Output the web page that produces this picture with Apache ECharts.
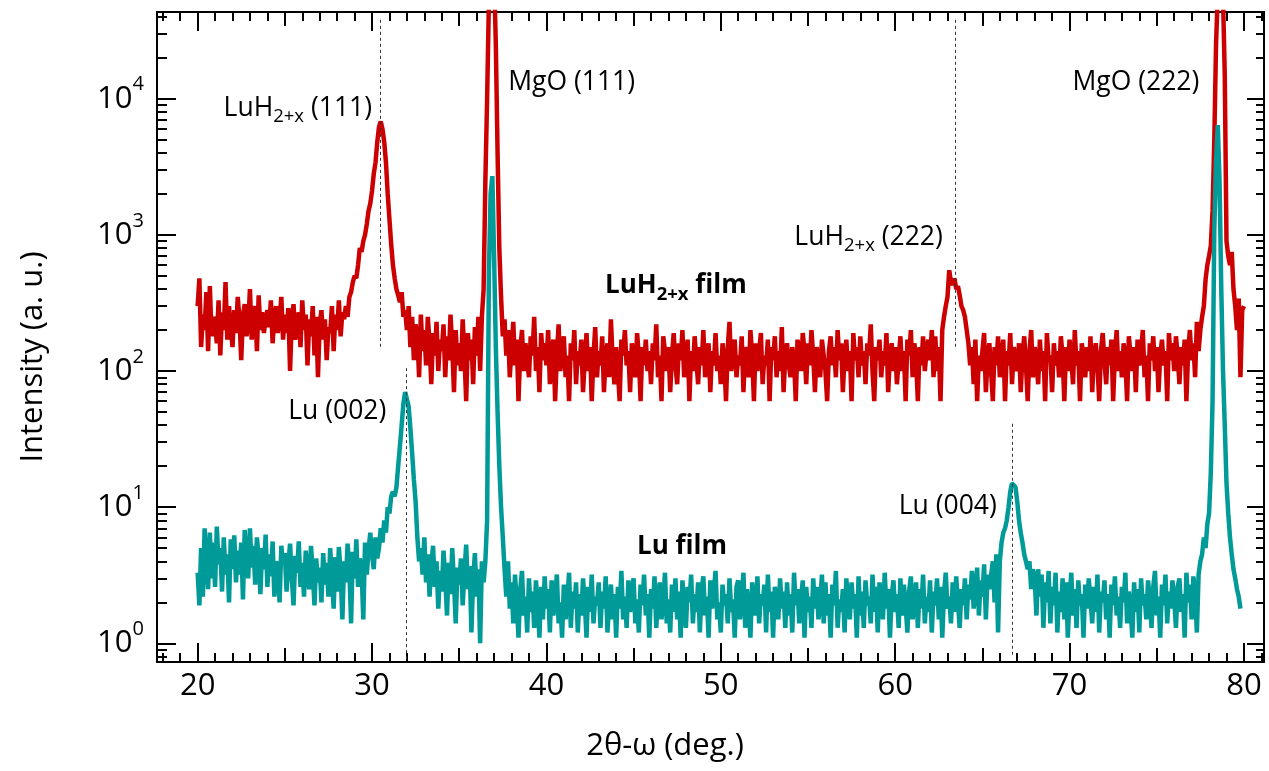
<!DOCTYPE html>
<html><head><meta charset="utf-8">
<script src="https://cdn.jsdelivr.net/npm/echarts@6/dist/echarts.min.js"></script>
<style>html,body{margin:0;padding:0;background:#fff}#c{width:1269px;height:771px}</style>
</head><body><div id="c"></div>
<script>
// 2θ-ω scan, sampled from 20.0 deg every 0.1 deg
const xStart = 20.0;
const xStep = 0.1;

// LuH2+x film intensity (a.u.), 20.0 .. 80.0
const luhFilm = [
 300,480,150,260,200,380,140,420,180,250, // 20
 220,160,330,130,270,200,450,170,300,210, // 21
 150,280,190,350,240,120,260,310,180,220, // 22
 400,170,250,300,140,360,200,270,190,240, // 23
 280,210,330,160,250,300,190,240,350,170, // 24
 260,190,290,100,240,310,170,220,270,150, // 25
 330,200,260,110,240,180,300,130,250,90,  // 26
 220,280,170,240,120,210,190,300,140,260, // 27
 200,330,180,270,240,300,250,350,380,450, // 28
 500,480,600,800,750,900,1000,1200,1500,1700, // 29
 2100,2800,3400,4800,6200,6800,6000,4800,3400,2000, // 30
 1300,850,600,480,400,360,320,380,250,280, // 31
 200,300,150,250,120,220,180,90,260,140,  // 32
 200,110,250,160,80,190,130,230,100,170,  // 33
 140,220,90,180,120,260,150,70,200,110,   // 34
 160,100,240,130,60,190,120,170,80,210,   // 35
 130,250,100,250,400,2500,10000,50000,200000,200000, // 36
 80000,25000,4000,800,350,180,240,130,200,90, // 37
 150,230,110,170,60,140,200,100,160,120,  // 38
 90,180,130,250,100,150,70,190,120,160,   // 39
 110,200,80,140,170,60,130,220,100,150,   // 40
 180,90,130,60,160,120,200,80,140,110,    // 41
 170,70,120,190,100,150,60,130,210,90,    // 42
 140,110,180,70,130,160,90,240,120,80,    // 43
 150,100,60,170,130,200,110,140,70,160,   // 44
 120,90,190,130,60,150,110,170,100,140,   // 45
 80,160,120,220,90,130,60,180,140,100,    // 46
 150,70,130,190,110,80,160,120,200,90,    // 47
 130,170,60,140,100,180,120,80,150,110,   // 48
 200,90,130,160,70,140,110,190,100,130,   // 49
 80,160,120,60,150,230,100,140,170,90,    // 50
 130,110,180,70,150,120,90,200,130,60,    // 51
 160,100,140,190,80,130,110,170,60,150,   // 52
 120,180,90,140,100,210,70,130,160,110,   // 53
 90,150,120,60,170,130,100,190,140,80,    // 54
 160,110,200,130,70,150,120,90,170,130,   // 55
 100,60,140,180,110,150,90,200,120,160,   // 56
 70,130,170,100,140,60,190,120,150,90,    // 57
 180,110,140,80,160,130,220,100,60,150,   // 58
 120,170,90,140,110,190,70,130,160,100,   // 59
 150,80,120,180,100,140,60,170,130,200,   // 60
 90,160,120,60,150,110,180,100,140,170,   // 61
 120,200,90,180,100,150,60,200,250,300,   // 62
 350,550,450,430,480,400,420,360,300,280, // 63
 250,200,160,110,150,80,170,60,130,100,   // 64
 140,190,70,120,160,100,60,150,110,180,   // 65
 90,130,170,60,140,110,190,80,150,120,    // 66
 100,160,70,130,180,110,60,140,200,90,    // 67
 150,120,80,170,100,140,60,190,120,130,   // 68
 70,160,110,140,90,180,130,60,150,100,    // 69
 170,120,80,200,110,140,60,160,130,90,    // 70
 150,100,180,70,130,160,110,60,140,190,   // 71
 120,80,150,110,170,60,130,200,100,140,   // 72
 90,160,120,60,180,130,100,150,70,170,    // 73
 110,140,200,90,130,60,160,120,180,100,   // 74
 150,70,130,170,110,140,60,190,120,160,   // 75
 100,180,130,80,150,110,170,60,140,200,   // 76
 120,160,90,230,140,200,250,300,470,600,  // 77
 700,830,1500,5000,25000,60000,150000,150000,55000,15000, // 78
 900,700,600,750,400,300,200,340,90,280,  // 79
 300                                      // 80
];

// Lu film intensity (a.u.), 20.0 .. 79.8
const luFilm = [
 3.3,1.9,5,2.2,7,4,2.5,6.5,3,5.5,        // 20
 2.6,7.2,3.8,5,2.4,6,3.2,4.5,2,5.8,      // 21
 3.5,6.2,2.8,4.8,3.2,5.5,2.1,6.8,4,3,    // 22
 7,3.6,5.2,2.7,6,4.2,2.3,5,3.5,6.3,      // 23
 2.6,4.5,3.1,5.6,2.2,4,3.5,2,5.2,3.8,    // 24
 4.6,2.4,3.8,5.4,3,1.9,4.4,3.3,5.6,2.6,  // 25
 3.9,2.2,4.8,3.1,2.5,5.2,3.4,1.9,4.2,2.8,// 26
 3.6,2,4.6,2.7,3.9,2.2,5,3.1,1.8,4.3,    // 27
 2.4,5.1,3.3,1.5,4,2.8,5.4,3.6,1.4,4.7,  // 28
 3,5.8,2.6,4.2,3.5,1.5,5.5,3.2,4.8,6.5,  // 29
 4.5,3.5,6,4.2,5,7,5.5,8,6.5,10,         // 30
 9,12,13,12,14,20,28,40,58,70,           // 31
 70,55,38,25,16,11,6,4,5,3.2,            // 32
 6,2.8,4.5,2.2,3.8,5.2,2.6,4,1.8,3.4,    // 33
 2.4,4.8,3,1.6,3.9,2.3,5,2.8,1.4,3.6,    // 34
 2.7,4.2,1.9,3.3,5.3,2.5,3.7,1.2,3,4.6,  // 35
 2.2,3.5,1,4,2.8,4,8,500,2000,2700,      // 36
 700,150,50,20,10,6,3.5,2.2,4,1.8,       // 37
 2.8,1.4,3.2,2,1.1,2.5,3.4,1.6,2.2,1.2,  // 38
 3,1.7,2.4,1.3,2.9,1.9,1.1,2.6,1.5,3.1,  // 39
 1.8,2.5,1.2,2.9,1.6,2.2,3.2,1.4,2,1.1,  // 40
 2.7,1.5,2.1,3.3,1.3,2.4,1.8,2.8,1.2,2.3,// 41
 1.6,3,2,1.1,2.6,1.7,3.2,1.4,2.2,1.9,    // 42
 2.8,1.3,2.4,1.8,3.1,1.2,2,2.7,1.5,2.3,  // 43
 1.1,2.6,1.8,3.4,1.5,2.2,1.3,2.9,1.7,2.4,// 44
 3,1.4,2.1,1.2,2.7,1.9,3.2,1.6,2.3,1.1,  // 45
 2.5,1.8,3.1,1.3,2.2,2.8,1.5,2,3.3,1.4,  // 46
 2.1,1.2,2.7,1.7,3,1.5,2.4,1.1,2.9,1.8,  // 47
 1.3,2.6,2,3.2,1.4,2.3,1.7,2.8,1.2,2.5,  // 48
 3.1,1.6,2.2,1.1,2.9,1.8,2.4,3.4,1.5,2,  // 49
 1.2,2.7,1.9,2.3,1.4,3,1.7,2.1,1.1,2.6,  // 50
 2.9,1.5,2.2,3.3,1.3,2.5,1.8,1.1,2.8,2,  // 51
 1.6,3.1,1.4,2.3,1.9,2.7,1.2,3.2,1.7,2.4,// 52
 1.1,2.6,2.1,1.5,3,1.8,2.4,1.3,2.8,1.6,  // 53
 2.3,1.2,3.3,1.9,2.5,1.4,2.1,2.9,1.1,2.6,// 54
 1.7,2.2,1.3,3,1.8,2.6,1.5,2,3.2,1.4,    // 55
 2.8,1.6,2.3,1.1,2.7,1.9,3.4,1.3,2.1,1.7,// 56
 2.5,1.2,3,2,1.5,2.8,1.8,2.3,1.1,3.1,    // 57
 1.6,2.4,1.3,2.9,1.9,2.2,1.4,3.2,1.7,2.6,// 58
 1.2,2.8,2,1.5,3.3,1.8,2.5,1.1,2.2,2.9,  // 59
 1.7,2.3,1.3,3,1.6,2.7,1.9,1.2,2.4,3.1,  // 60
 1.5,2.1,2.8,1.3,2.5,1.8,3.2,1.4,2.2,1.7,// 61
 2.9,1.2,2.4,1.9,3,1.5,2.6,1.1,2.3,3.3,  // 62
 1.8,2.2,1.4,2.8,1.7,3.1,2,1.3,2.5,1.9,  // 63
 3,1.5,2.7,2.1,3.4,1.8,2.4,3.6,1.6,2.9,  // 64
 2.2,3.8,1.5,3.2,2.5,2.5,4,2,4.5,1.2,    // 65
 4,5.5,6.5,7,8,10,13,15,15.5,14,         // 66
 11,8,6.5,5.5,4.5,4,3.5,4,2.5,3.5,       // 67
 3,1.6,3.5,2.2,3.2,1.3,2.8,2,3.4,1.4,    // 68
 2.6,1.9,3.3,1.2,2.4,1.7,3,1.5,2.8,1.1,  // 69
 2.2,3.3,1.6,2.5,1.3,2.9,1.9,2.3,1.1,2.7,// 70
 1.8,3,2.1,1.4,2.6,1.7,3.2,1.2,2.4,2,    // 71
 2.9,1.5,2.3,1.1,2.7,1.9,3.1,1.6,2.2,1.3,// 72
 2.6,2,3.3,1.4,2.4,1.8,1.1,2.8,1.7,2.5,  // 73
 1.2,3,1.9,2.3,1.5,2.9,2.1,1.3,2.6,3.4,  // 74
 1.6,2.2,1.1,2.7,1.9,3.2,1.4,2.4,1.8,2.9,// 75
 2.1,1.3,2.6,3,1.7,2.3,1.1,3.3,2,2.7,    // 76
 1.5,3.1,2.4,1.2,3.2,4,4.5,6,5,7.5,      // 77
 9,18,60,1100,3500,6400,2500,400,100,40, // 78
 15,9,6,4.5,3.5,3,2.5,2.2,1.8            // 79
];

// axis ticks and labels
const xLabelValues = [20, 30, 40, 50, 60, 70, 80];
const xMidTicks = [25, 35, 45, 55, 65, 75];
const xMinorTicks = [18,19,21,22,23,24,26,27,28,29,31,32,33,34,36,37,38,39,41,42,43,44,46,47,48,49,51,52,53,54,56,57,58,59,61,62,63,64,66,67,68,69,71,72,73,74,76,77,78,79,81];
const yLabelValues = [1, 10, 100, 1000, 10000];
const yLabelExponents = ['0', '1', '2', '3', '4'];
const yMinorTicks = [0.8,0.9,2,3,4,5,6,7,8,9,20,30,40,50,60,70,80,90,200,300,400,500,600,700,800,900,2000,3000,4000,5000,6000,7000,8000,9000,20000,30000,40000];

// reference lines [x, yFrom, yTo]
const luhRefLines = [[30.47, 38000, 150], [63.42, 38000, 150]];
const luRefLines = [[31.96, 105, 0.76], [66.73, 41, 0.82]];

// annotations: [x, y, text, align]
const annotations = [
  [30.0, 8500, '{n|LuH}{s|2+x}{n| (111)}', 'right'],
  [37.81, 13270, '{n|MgO (111)}', 'left'],
  [77.44, 13270, '{n|MgO (222)}', 'right'],
  [62.73, 955, '{n|LuH}{s|2+x}{n| (222)}', 'right'],
  [43.36, 423, '{b|LuH}{bs|2+x}{b| film}', 'left'],
  [30.82, 50.6, '{n|Lu (002)}', 'right'],
  [45.2, 5.17, '{b|Lu film}', 'left'],
  [65.83, 10.2, '{n|Lu (004)}', 'right']
];

const FONT = 'Open Sans';
const X_MIN = 17.67, X_MAX = 81.15, Y_MIN = 0.729, Y_MAX = 43370;

const toSeries = arr => arr.map((v, i) => [Math.round((xStart + i * xStep) * 10) / 10, v]);
const refLineData = lines => lines.map(l => [{coord: [l[0], l[1]]}, {coord: [l[0], l[2]]}]);

function xAx(pos, ticks, len, showLine, showLabel) {
  return {
    type: 'value', position: pos, min: X_MIN, max: X_MAX, gridIndex: 0,
    axisLine: {show: showLine, onZero: false, lineStyle: {color: '#000', width: 2}},
    axisTick: {show: true, inside: true, length: len, customValues: ticks, lineStyle: {color: '#000', width: 2}},
    axisLabel: showLabel ? {show: true, customValues: xLabelValues, margin: 9, color: '#000', fontSize: 31, fontFamily: FONT} : {show: false},
    splitLine: {show: false}, minorTick: {show: false}
  };
}
function yAx(pos, ticks, len, showLine, showLabel) {
  return {
    type: 'log', logBase: 10, position: pos, min: Y_MIN, max: Y_MAX, gridIndex: 0,
    axisLine: {show: showLine, onZero: false, lineStyle: {color: '#000', width: 2}},
    axisTick: {show: true, inside: true, length: len, customValues: ticks, lineStyle: {color: '#000', width: 2}},
    axisLabel: showLabel ? {
      show: true, customValues: yLabelValues, margin: 13,
      formatter: v => '{b|10}{e|' + yLabelExponents[yLabelValues.indexOf(Math.round(v * 1000) / 1000)] + '}',
      rich: {
        b: {fontSize: 31, lineHeight: 48, fontFamily: FONT, color: '#000'},
        e: {fontSize: 20, lineHeight: 20, verticalAlign: 'top', fontFamily: FONT, color: '#000'}
      }
    } : {show: false},
    splitLine: {show: false}, minorTick: {show: false}
  };
}

const chart = echarts.init(document.getElementById('c'), null, {renderer: 'canvas'});
chart.setOption({
  animation: false,
  backgroundColor: '#fff',
  grid: {left: 157, right: 5, top: 12, bottom: 109, containLabel: false, outerBoundsMode: 'none'},
  xAxis: [
    xAx('bottom', xLabelValues, 19, true, true),
    xAx('bottom', xMidTicks, 14, false, false),
    xAx('bottom', xMinorTicks, 9, false, false),
    xAx('top', xLabelValues, 19, true, false),
    xAx('top', xMidTicks, 14, false, false),
    xAx('top', xMinorTicks, 9, false, false)
  ],
  yAxis: [
    yAx('left', yLabelValues, 19, true, true),
    yAx('left', yMinorTicks, 10, false, false),
    yAx('right', yLabelValues, 17, true, false),
    yAx('right', yMinorTicks, 8, false, false)
  ],
  series: [
    {
      name: 'LuH2+x film', type: 'line', xAxisIndex: 0, yAxisIndex: 0,
      data: toSeries(luhFilm), showSymbol: false, symbol: 'none', clip: true,
      lineStyle: {color: '#cc0000', width: 4.5}, z: 3,
      markLine: {silent: true, symbol: ['none', 'none'], label: {show: false},
        lineStyle: {color: '#333', width: 1, type: [3, 3]}, data: refLineData(luhRefLines)}
    },
    {
      name: 'Lu film', type: 'line', xAxisIndex: 0, yAxisIndex: 0,
      data: toSeries(luFilm), showSymbol: false, symbol: 'none', clip: true,
      lineStyle: {color: '#009b98', width: 4.5}, z: 3,
      markLine: {silent: true, symbol: ['none', 'none'], label: {show: false},
        lineStyle: {color: '#333', width: 1, type: [3, 3]}, data: refLineData(luRefLines)}
    }
  ]
});

const rich = {
  n: {fontSize: 26.5, lineHeight: 36, fontFamily: FONT, fill: '#000', color: '#000'},
  s: {fontSize: 18.5, lineHeight: 18, verticalAlign: 'bottom', fontFamily: FONT, fill: '#000', color: '#000'},
  b: {fontSize: 26, lineHeight: 36, fontWeight: 'bold', fontFamily: FONT, fill: '#000', color: '#000'},
  bs: {fontSize: 18.5, lineHeight: 18, fontWeight: 'bold', verticalAlign: 'bottom', fontFamily: FONT, fill: '#000', color: '#000'}
};
const graphics = annotations.map(a => {
  const p = chart.convertToPixel({seriesIndex: 0}, [a[0], a[1]]);
  return {type: 'text', x: p[0], y: p[1], z: 10, silent: true,
    style: {text: a[2], rich: rich, align: a[3], verticalAlign: 'middle', fill: '#000'}};
});
graphics.push({type: 'text', x: 33, y: 357, rotation: Math.PI / 2, silent: true,
  style: {text: 'Intensity (a. u.)', font: '31px "Open Sans"', fill: '#000', align: 'center', verticalAlign: 'middle'}});
graphics.push({type: 'text', x: 665, y: 746, silent: true,
  style: {text: '2θ-ω (deg.)', font: '31px "Open Sans"', fill: '#000', align: 'center', verticalAlign: 'middle'}});
chart.setOption({graphic: graphics});
</script>
</body></html>
